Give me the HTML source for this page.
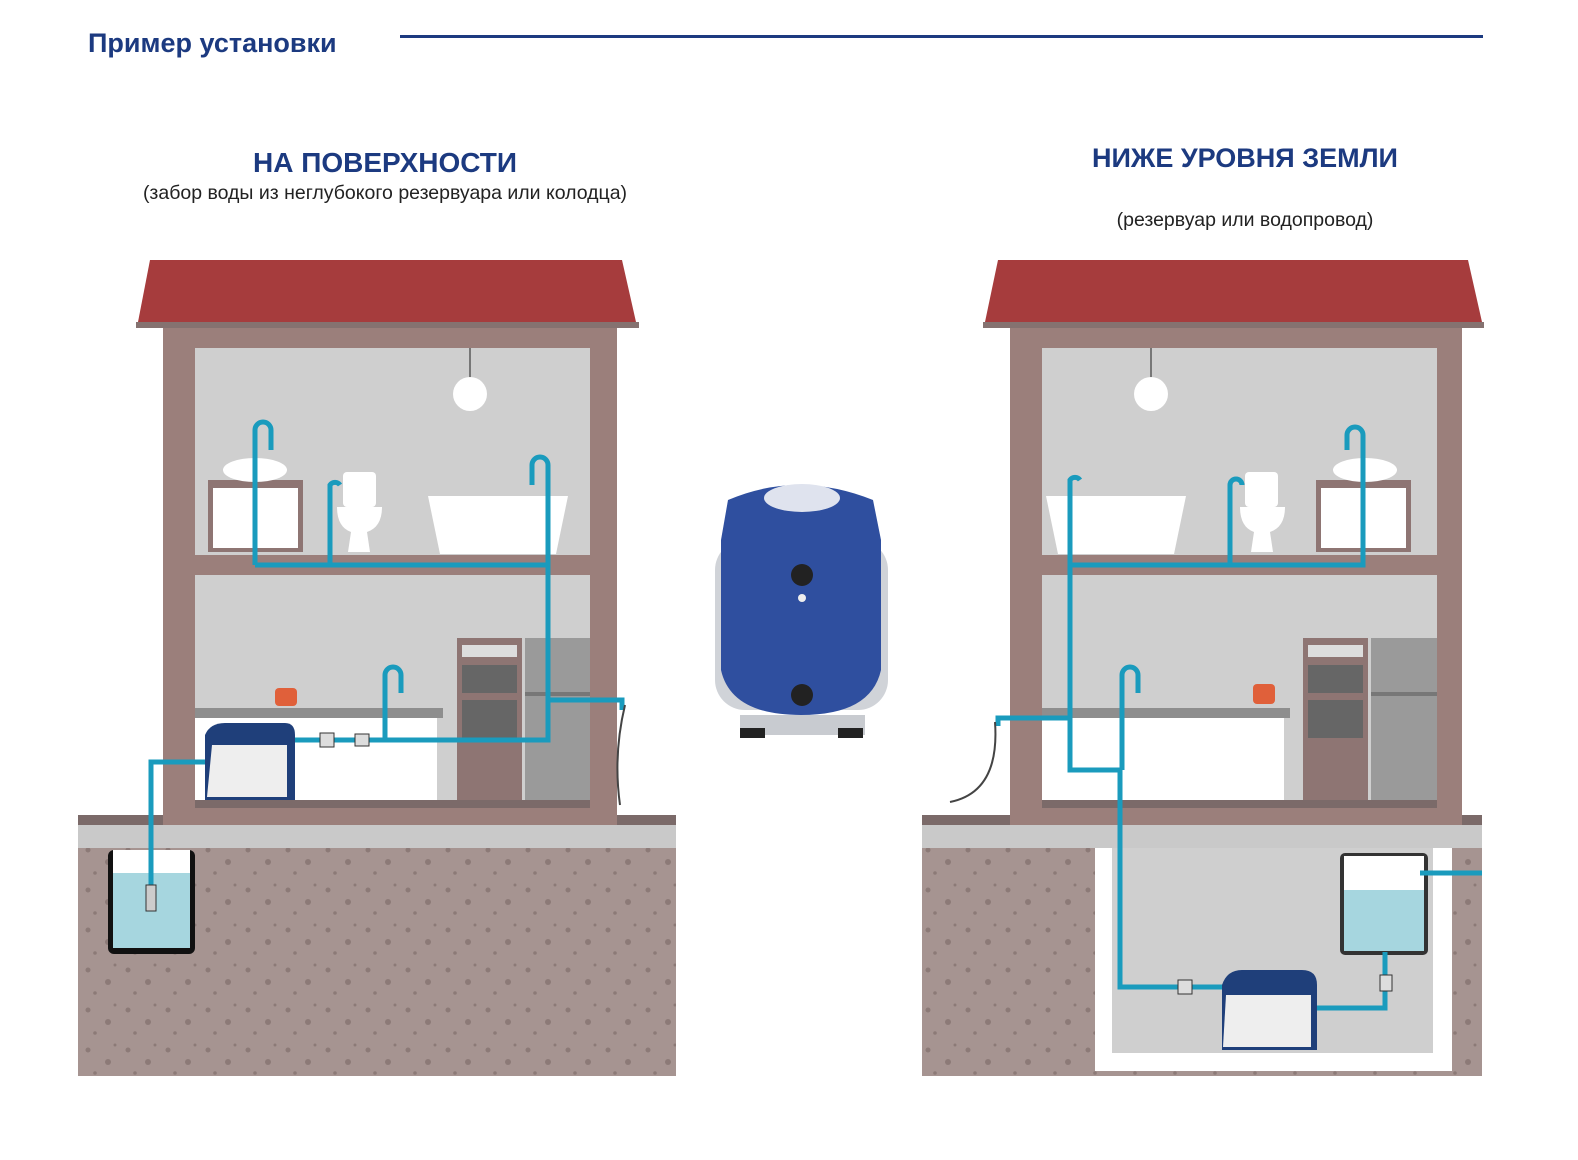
<!DOCTYPE html>
<html><head><meta charset="utf-8"><style>
body{margin:0;background:#fff;}
svg{display:block;font-family:"Liberation Sans","DejaVu Sans",sans-serif;}
</style></head><body>
<svg width="1578" height="1160" viewBox="0 0 1578 1160">
<defs>
<pattern id="dots" width="40" height="40" patternUnits="userSpaceOnUse">
<rect width="40" height="40" fill="#a69491"/>
<circle cx="8" cy="10" r="2.5" fill="#8c7a77"/><circle cx="28" cy="22" r="3" fill="#8c7a77"/><circle cx="15" cy="33" r="1.8" fill="#8c7a77"/><circle cx="35" cy="5" r="1.5" fill="#8c7a77"/>
</pattern>
</defs>
<text x="88" y="52" font-size="27" font-weight="bold" fill="#1c3a80">Пример установки</text>
<rect x="400" y="35" width="1083" height="3" fill="#1c3a80"/>
<text x="385" y="172" font-size="28" font-weight="bold" fill="#1c3a80" text-anchor="middle">НА ПОВЕРХНОСТИ</text>
<text x="385" y="199" font-size="19.5" fill="#222" text-anchor="middle">(забор воды из неглубокого резервуара или колодца)</text>
<text x="1245" y="167" font-size="27" font-weight="bold" fill="#1c3a80" text-anchor="middle">НИЖЕ УРОВНЯ ЗЕМЛИ</text>
<text x="1245" y="226" font-size="19.5" fill="#222" text-anchor="middle">(резервуар или водопровод)</text>

<!-- LEFT -->
<rect x="78" y="848" width="598" height="228" fill="url(#dots)"/>
<rect x="78" y="825" width="598" height="23" fill="#c9c9c9"/>
<rect x="78" y="815" width="598" height="10" fill="#7b6a69"/>
<polygon points="150,260 622,260 636,322 138,322" fill="#a63c3d"/>
<rect x="136" y="322" width="503" height="6" fill="#857270"/>
<rect x="163" y="328" width="454" height="497" fill="#9b7f7b"/>
<rect x="195" y="348" width="395" height="207" fill="#cfcfcf"/>
<rect x="195" y="575" width="395" height="225" fill="#cfcfcf"/>
<rect x="195" y="718" width="242" height="82" fill="#fff"/>
<rect x="195" y="800" width="395" height="8" fill="#7b6a69"/>
<rect x="195" y="708" width="248" height="10" fill="#8e8e8e"/>
<rect x="457" y="638" width="65" height="162" fill="#8e7573"/>
<rect x="462" y="645" width="55" height="12" fill="#ddd"/>
<rect x="462" y="665" width="55" height="28" fill="#666"/>
<rect x="462" y="700" width="55" height="38" fill="#666"/>
<rect x="525" y="638" width="65" height="162" fill="#9a9a9a"/>
<rect x="525" y="692" width="65" height="4" fill="#777"/>
<line x1="470" y1="348" x2="470" y2="378" stroke="#777" stroke-width="2"/>
<circle cx="470" cy="394" r="17" fill="#fff"/>
<rect x="208" y="480" width="95" height="72" fill="#8e7573"/><rect x="213" y="488" width="85" height="60" fill="#fff"/>
<ellipse cx="255" cy="470" rx="32" ry="12" fill="#fff"/>
<rect x="343" y="472" width="33" height="35" fill="#fff" rx="4"/><path d="M337,507 h45 q0,20 -15,25 l3,20 h-22 l3,-20 q-14,-5 -14,-25z" fill="#fff"/>
<path d="M428,496 h140 l-12,58 h-116z" fill="#fff"/>
<rect x="275" y="688" width="22" height="18" rx="4" fill="#e0603a"/>
<rect x="108" y="850" width="87" height="104" rx="6" fill="#111"/>
<rect x="113" y="850" width="77" height="98" fill="#fff"/>
<rect x="113" y="873" width="77" height="75" fill="#a6d6df"/>
<g fill="none" stroke="#1a9bbd" stroke-width="5">
<path d="M151,890 V762 H215"/>
<path d="M290,740 H548 V465 a8,8 0 0 0 -16,0 v20"/>
<path d="M255,565 H548"/>
<path d="M255,565 V430 a8,8 0 0 1 16,0 v20"/>
<path d="M330,565 V485 a6,6 0 0 1 10,0"/>
<path d="M385,740 V675 a8,8 0 0 1 16,0 v18"/>
<path d="M548,700 H622 v10"/>
<path d="M625,705 q-12,50 -5,100" stroke="#444" stroke-width="2"/>
</g>
<rect x="146" y="885" width="10" height="26" fill="#ccc" stroke="#333"/>
<path d="M205,735 q5,-12 20,-12 h60 q10,0 10,12 v65 h-90z" fill="#1f3f7a"/>
<path d="M212,745 h75 v52 h-80z" fill="#eee"/>
<rect x="320" y="733" width="14" height="14" fill="#ddd" stroke="#333"/>
<rect x="355" y="734" width="14" height="12" fill="#ddd" stroke="#333"/>

<!-- CENTER PUMP -->
<rect x="715" y="540" width="173" height="170" rx="30" fill="#d0d3d8"/>
<path d="M728,500 q70,-30 145,0 l8,40 v130 q-10,45 -80,45 q-70,0 -80,-45 v-130z" fill="#2f4f9f"/>
<ellipse cx="802" cy="498" rx="38" ry="14" fill="#dfe3ee"/>
<rect x="740" y="715" width="125" height="20" fill="#c8cbd0"/>
<rect x="740" y="728" width="25" height="10" fill="#222"/><rect x="838" y="728" width="25" height="10" fill="#222"/>
<circle cx="802" cy="575" r="11" fill="#222"/><circle cx="802" cy="695" r="11" fill="#222"/>
<circle cx="802" cy="598" r="4" fill="#eee"/>

<!-- RIGHT -->
<rect x="922" y="848" width="560" height="228" fill="url(#dots)"/>
<rect x="1095" y="848" width="357" height="223" fill="#fff"/>
<rect x="1112" y="848" width="321" height="205" fill="#cfcfcf"/>
<rect x="922" y="825" width="560" height="23" fill="#c9c9c9"/>
<rect x="922" y="815" width="560" height="10" fill="#7b6a69"/>
<polygon points="998,260 1468,260 1482,322 985,322" fill="#a63c3d"/>
<rect x="983" y="322" width="501" height="6" fill="#857270"/>
<rect x="1010" y="328" width="452" height="497" fill="#9b7f7b"/>
<rect x="1042" y="348" width="395" height="207" fill="#cfcfcf"/>
<rect x="1042" y="575" width="395" height="225" fill="#cfcfcf"/>
<rect x="1042" y="718" width="242" height="82" fill="#fff"/>
<rect x="1042" y="800" width="395" height="8" fill="#7b6a69"/>
<rect x="1042" y="708" width="248" height="10" fill="#8e8e8e"/>
<rect x="1303" y="638" width="65" height="162" fill="#8e7573"/>
<rect x="1308" y="645" width="55" height="12" fill="#ddd"/>
<rect x="1308" y="665" width="55" height="28" fill="#666"/>
<rect x="1308" y="700" width="55" height="38" fill="#666"/>
<rect x="1371" y="638" width="66" height="162" fill="#9a9a9a"/>
<rect x="1371" y="692" width="66" height="4" fill="#777"/>
<line x1="1151" y1="348" x2="1151" y2="378" stroke="#777" stroke-width="2"/>
<circle cx="1151" cy="394" r="17" fill="#fff"/>
<rect x="1316" y="480" width="95" height="72" fill="#8e7573"/><rect x="1321" y="488" width="85" height="60" fill="#fff"/>
<ellipse cx="1365" cy="470" rx="32" ry="12" fill="#fff"/>
<rect x="1245" y="472" width="33" height="35" fill="#fff" rx="4"/><path d="M1240,507 h45 q0,20 -15,25 l3,20 h-22 l3,-20 q-14,-5 -14,-25z" fill="#fff"/>
<path d="M1046,496 h140 l-12,58 h-116z" fill="#fff"/>
<rect x="1253" y="684" width="22" height="20" rx="4" fill="#e0603a"/>
<rect x="1340" y="853" width="88" height="102" rx="5" fill="#333"/>
<rect x="1344" y="856" width="80" height="95" fill="#fff"/>
<rect x="1344" y="890" width="80" height="61" fill="#a6d6df"/>
<g fill="none" stroke="#1a9bbd" stroke-width="5">
<path d="M1080,480 a6,6 0 0 0 -10,0 V770 H1120 V987 H1225"/>
<path d="M1070,565 H1363 V435 a8,8 0 0 0 -16,0 v15"/>
<path d="M1230,565 V485 a6,6 0 0 1 12,0"/>
<path d="M1122,770 V675 a8,8 0 0 1 16,0 v18"/>
<path d="M1070,718 H998 v8"/>
<path d="M995,722 q5,70 -45,80" stroke="#444" stroke-width="2"/>
<path d="M1310,1008 H1385 V952"/>
<path d="M1420,873 H1482"/>
</g>
<path d="M1222,985 q5,-15 20,-15 h60 q15,0 15,15 v65 h-95z" fill="#1f3f7a"/>
<path d="M1226,995 h85 v52 h-88z" fill="#eee"/>
<rect x="1178" y="980" width="14" height="14" fill="#ddd" stroke="#333"/>
<rect x="1380" y="975" width="12" height="16" fill="#ddd" stroke="#333"/>
</svg>
</body></html>
